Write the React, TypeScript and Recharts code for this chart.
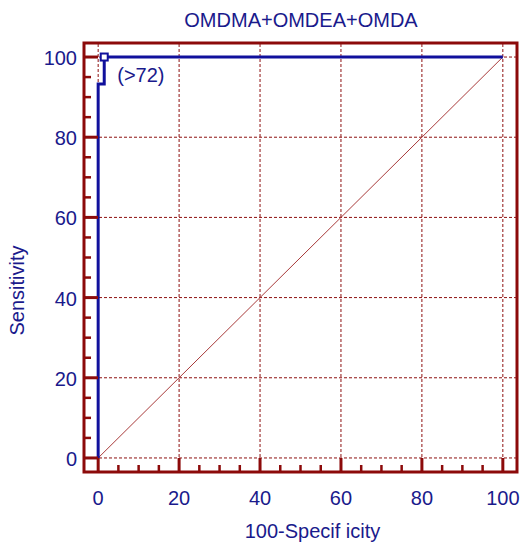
import { ComposedChart, Line, XAxis, YAxis, ReferenceLine, ReferenceArea } from "recharts";

const chartTitle = "OMDMA+OMDEA+OMDA";
const xLabel = "100-Specif icity";
const yLabel = "Sensitivity";

// ROC curve points (100-Specificity, Sensitivity)
const rocX = [0, 0, 1.5, 1.5, 100];
const rocY = [0, 93.3, 93.3, 100, 100];
const cutoffIndex = 3;
const cutoffLabel = "(>72)";

// reference diagonal
const diagX = [0, 100];
const diagY = [0, 100];

const axisTicks = [0, 5, 10, 15, 20, 25, 30, 35, 40, 45, 50, 55, 60, 65, 70, 75, 80, 85, 90, 95, 100];
const gridValues = [0, 20, 40, 60, 80, 100];

const FRAME = "#8c0a0a";
const GRID = "#8e1010";
const BLUE = "#10109c";
const TEXT = "#1a1a8c";
const FONT = "'Liberation Sans', Arial, sans-serif";

const rocData = rocX.map((x, i) => ({ x, y: rocY[i] }));
const diagData = diagX.map((x, i) => ({ x, y: diagY[i] }));

const isMajor = (v: number) => v % 20 === 0;

function XTick(props: any) {
  const { x, y, payload } = props;
  const v = payload.value;
  const len = isMajor(v) ? 14 : 7;
  return (
    <g>
      <line x1={x} y1={y} x2={x} y2={y - len} stroke={FRAME} strokeWidth={isMajor(v) ? 3 : 2.5} />
      {isMajor(v) && (
        <text x={x} y={y + 33} textAnchor="middle" fill={TEXT} fontSize={20} fontFamily={FONT}>
          {v}
        </text>
      )}
    </g>
  );
}

function YTick(props: any) {
  const { x, y, payload } = props;
  const v = payload.value;
  const len = isMajor(v) ? 14 : 7;
  return (
    <g>
      <line x1={x} y1={y} x2={x + len} y2={y} stroke={FRAME} strokeWidth={isMajor(v) ? 3 : 2.5} />
      {isMajor(v) && (
        <text x={x - 7} y={y + 8} textAnchor="end" fill={TEXT} fontSize={20} fontFamily={FONT}>
          {v}
        </text>
      )}
    </g>
  );
}

function RocDot(props: any) {
  const { cx, cy, index } = props;
  if (index !== cutoffIndex) return <g key={`d-${index}`} />;
  return (
    <g key={`d-${index}`}>
      <rect x={cx - 3.5} y={cy - 3.5} width={7} height={7} fill="#ffffff" stroke={BLUE} strokeWidth={2} />
      <text x={cx + 13} y={cy + 25} fill={TEXT} fontSize={20} fontFamily={FONT}>
        {cutoffLabel}
      </text>
    </g>
  );
}

export default function App() {
  return (
    <div style={{ position: "absolute", left: 0, top: 0, width: 523, height: 544, background: "#fff" }}>
      <div
        style={{
          position: "absolute",
          left: 101,
          top: 10,
          width: 400,
          textAlign: "center",
          fontFamily: FONT,
          fontSize: 20,
          lineHeight: "20px",
          color: TEXT,
        }}
      >
        {chartTitle}
      </div>
      <ComposedChart width={523} height={544} margin={{ top: 43, right: 6, bottom: 12, left: 24 }}>
        <XAxis
          dataKey="x"
          type="number"
          domain={[-3.5, 103.5]}
          ticks={axisTicks}
          interval={0}
          axisLine={false}
          tickLine={false}
          tickSize={0}
          tickMargin={0}
          tick={<XTick />}
          height={60}
          allowDataOverflow
          label={({ viewBox }: any) => (
            <text
              x={viewBox.x + viewBox.width / 2 + 12}
              y={viewBox.y + 66}
              textAnchor="middle"
              fill={TEXT}
              fontSize={20}
              fontFamily={FONT}
            >
              {xLabel}
            </text>
          )}
        />
        <YAxis
          dataKey="y"
          type="number"
          domain={[-3.5, 103.5]}
          ticks={axisTicks}
          interval={0}
          axisLine={false}
          tickLine={false}
          tickSize={0}
          tickMargin={0}
          tick={<YTick />}
          width={60}
          allowDataOverflow
          label={({ viewBox }: any) => (
            <text
              x={viewBox.x - 7}
              y={viewBox.y + viewBox.height / 2 + 33}
              transform={`rotate(-90, ${viewBox.x - 7}, ${viewBox.y + viewBox.height / 2 + 33})`}
              textAnchor="middle"
              dominantBaseline="central"
              fill={TEXT}
              fontSize={20}
              fontFamily={FONT}
            >
              {yLabel}
            </text>
          )}
        />
        {gridValues.map((v) => (
          <ReferenceLine key={`gx-${v}`} x={v} stroke={GRID} strokeWidth={1} strokeDasharray="3 2" />
        ))}
        {gridValues.map((v) => (
          <ReferenceLine key={`gy-${v}`} y={v} stroke={GRID} strokeWidth={1} strokeDasharray="3 2" />
        ))}
        <Line
          data={diagData}
          dataKey="y"
          stroke="#a83a3a"
          strokeWidth={1}
          dot={false}
          isAnimationActive={false}
        />
        <ReferenceArea
          x1={-3.5}
          x2={103.5}
          y1={-3.5}
          y2={103.5}
          fill="none"
          stroke={FRAME}
          strokeWidth={3}
          ifOverflow="visible"
        />
        <Line
          data={rocData}
          dataKey="y"
          type="linear"
          stroke={BLUE}
          strokeWidth={3}
          dot={<RocDot />}
          activeDot={false}
          isAnimationActive={false}
        />
      </ComposedChart>
    </div>
  );
}
